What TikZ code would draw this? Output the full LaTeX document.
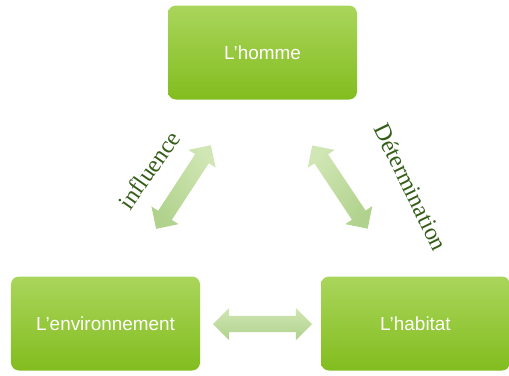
\documentclass[tikz,border=0pt]{standalone}
\usepackage{fontspec}
\setmainfont{Liberation Serif}
\newfontfamily\boxfont{Liberation Sans}
\usetikzlibrary{shapes.arrows}
\definecolor{boxtop}{RGB}{170,213,92}
\definecolor{boxbot}{RGB}{130,189,30}
\definecolor{arrtop}{RGB}{208,230,180}
\definecolor{arrbot}{RGB}{176,210,140}
\definecolor{lbl}{RGB}{52,94,24}
\tikzset{
  greenbox/.style={rectangle, rounded corners=8bp, minimum width=189bp, minimum height=94bp,
    top color=boxtop, bottom color=boxbot, draw=none, text=white,
    font=\boxfont\fontsize{19}{22}\selectfont},
  dblarrow/.style={double arrow, draw=none, inner xsep=0pt, inner ysep=8bp,
    double arrow head extend=8bp, double arrow tip angle=90,
    top color=arrtop, bottom color=arrbot},
  lbltext/.style={text=lbl, font=\fontsize{24}{28}\selectfont, inner sep=0pt}
}
\begin{document}
\begin{tikzpicture}[x=1bp,y=-1bp]
\useasboundingbox (0,0) rectangle (509,375);
\node[greenbox] (homme) at (262.5,52.5) {L’homme};
\node[greenbox] (env) at (105.5,323.5) {L’environnement};
\node[greenbox] (hab) at (415.5,323.5) {L’habitat};
\node[dblarrow, minimum height=99bp] (a1) at (262.5,324) {};
\node[dblarrow, minimum height=100bp, rotate=56.8, shading angle=-56.8] (a2) at (183.5,187) {};
\node[dblarrow, minimum height=100bp, rotate=-56.3, shading angle=56.3] (a3) at (340,187) {};
\node[lbltext, rotate=55] (infl) at (149,170) {influence};
\node[lbltext, rotate=-64] (det) at (411,187) {Détermination};
\end{tikzpicture}
\end{document}
